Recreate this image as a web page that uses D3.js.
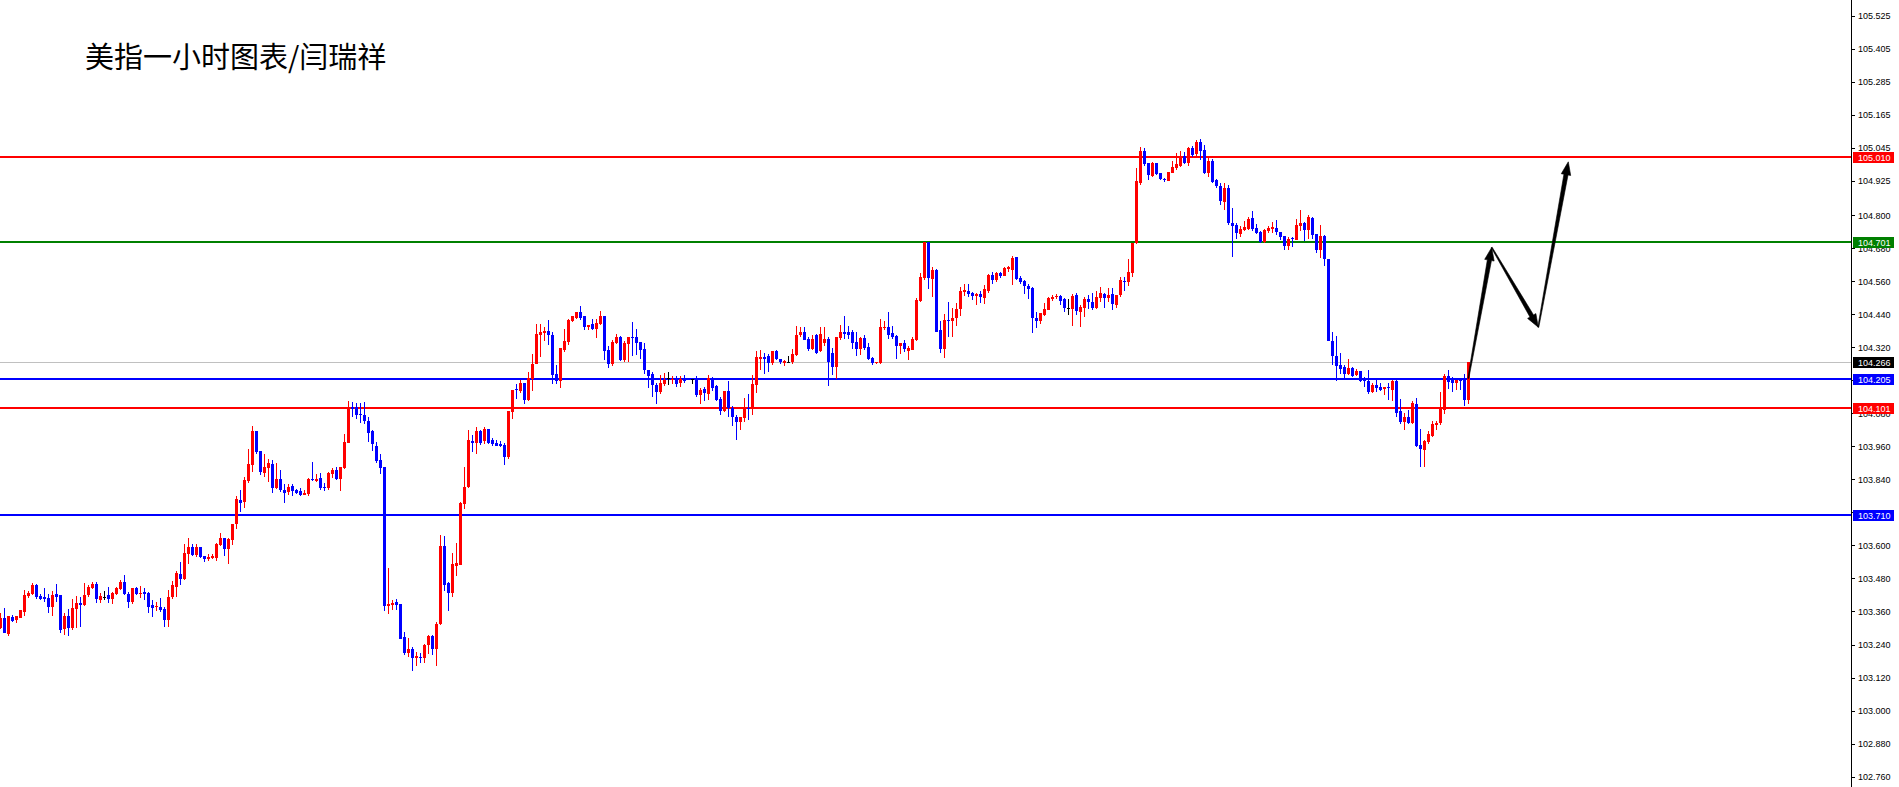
<!DOCTYPE html>
<html>
<head>
<meta charset="utf-8">
<script src="https://cdn.jsdelivr.net/npm/d3@7"></script>
<style>
html,body{margin:0;padding:0;background:#fff;overflow:hidden;}
svg{display:block;}
</style>
</head>
<body>
<svg id="chart" width="1899" height="787"></svg>
<script>
const title = "美指一小时图表/闫瑞祥";

const opens = [
103.299,103.337,103.278,103.339,103.329,103.337,103.359,103.416,103.423,103.456,
103.416,103.412,103.409,103.377,103.422,103.420,103.295,103.344,103.299,103.370,
103.392,103.382,103.420,103.446,103.460,103.402,103.414,103.420,103.405,103.425,
103.443,103.467,103.422,103.394,103.444,103.426,103.431,103.428,103.383,103.377,
103.377,103.370,103.329,103.414,103.449,103.496,103.478,103.570,103.595,103.565,
103.593,103.562,103.551,103.553,103.553,103.603,103.627,103.587,103.621,103.677,
103.765,103.759,103.835,103.892,104.016,103.943,103.864,103.882,103.896,103.807,
103.841,103.801,103.795,103.815,103.803,103.798,103.784,103.787,103.841,103.835,
103.846,103.812,103.807,103.861,103.874,103.843,103.881,103.973,104.104,104.104,
104.077,104.074,104.054,104.016,103.961,103.910,103.885,103.380,103.383,103.393,
103.386,103.267,103.209,103.225,103.192,103.195,103.191,103.238,103.271,103.224,
103.313,103.598,103.462,103.428,103.526,103.529,103.750,103.812,103.980,103.974,
104.016,103.980,104.024,103.984,103.974,103.969,103.966,103.923,104.084,104.168,
104.162,104.190,104.129,104.205,104.260,104.365,104.371,104.380,104.365,104.222,
104.196,104.311,104.340,104.417,104.428,104.448,104.432,104.395,104.405,104.386,
104.404,104.435,104.311,104.259,104.337,104.359,104.273,104.332,104.359,104.357,
104.338,104.314,104.238,104.223,104.183,104.156,104.186,104.208,104.202,104.205,
104.192,104.204,104.205,104.205,104.204,104.147,104.169,104.151,104.207,104.180,
104.133,104.087,104.162,104.101,104.068,104.050,104.062,104.101,104.096,104.183,
104.279,104.286,104.289,104.262,104.308,104.278,104.262,104.266,104.266,104.292,
104.363,104.374,104.351,104.314,104.365,104.305,104.337,104.351,104.301,104.250,
104.353,104.377,104.374,104.375,104.338,104.314,104.353,104.320,104.280,104.262,
104.262,104.389,104.395,104.371,104.362,104.323,104.335,104.308,104.311,104.345,
104.490,104.571,104.701,104.567,104.601,104.383,104.314,104.420,104.414,104.428,
104.460,104.520,104.523,104.519,104.508,104.514,104.498,104.526,104.583,104.565,
104.589,104.580,104.604,104.601,104.647,104.573,104.561,104.544,104.535,104.426,
104.414,104.438,104.456,104.496,104.501,104.507,104.495,104.462,104.460,104.510,
104.450,104.462,104.496,104.484,104.464,104.498,104.514,104.500,104.513,104.474,
104.510,104.562,104.556,104.591,104.698,104.918,105.033,104.991,104.942,104.989,
104.952,104.932,104.926,104.955,104.970,104.979,105.015,104.989,105.046,105.023,
105.067,105.037,104.952,104.998,104.928,104.906,104.849,104.898,104.773,104.764,
104.732,104.746,104.750,104.789,104.752,104.740,104.704,104.743,104.749,104.752,
104.740,104.725,104.688,104.716,104.710,104.761,104.771,104.746,104.791,104.731,
104.674,104.725,104.641,104.344,104.290,104.256,104.250,104.223,104.246,104.220,
104.234,104.210,104.198,104.156,104.183,104.175,104.169,104.175,104.165,104.199,
104.089,104.050,104.068,104.046,104.114,103.965,103.947,103.977,103.999,104.038,
104.044,104.092,104.216,104.207,104.192,104.204,104.207,104.129
];

const highs = [
103.353,103.373,103.345,103.347,103.342,103.365,103.438,103.434,103.463,103.460,
103.423,103.444,103.422,103.434,103.460,103.420,103.353,103.370,103.405,103.416,
103.412,103.463,103.456,103.468,103.466,103.426,103.434,103.450,103.432,103.450,
103.473,103.492,103.431,103.444,103.448,103.451,103.446,103.431,103.402,103.394,
103.409,103.376,103.438,103.471,103.507,103.541,103.604,103.627,103.606,103.604,
103.593,103.562,103.568,103.570,103.608,103.645,103.627,103.627,103.678,103.780,
103.801,103.850,103.950,104.034,104.016,103.943,103.932,103.914,103.910,103.899,
103.875,103.824,103.824,103.824,103.806,103.807,103.801,103.845,103.903,103.861,
103.862,103.827,103.868,103.880,103.884,103.884,104.004,104.125,104.121,104.117,
104.116,104.121,104.067,104.019,103.976,103.932,103.885,103.517,103.402,103.405,
103.386,103.284,103.262,103.230,103.214,103.208,103.242,103.274,103.274,103.323,
103.638,103.634,103.468,103.571,103.610,103.759,103.886,104.020,104.002,104.032,
104.020,104.032,104.024,103.990,103.984,103.978,103.972,104.090,104.165,104.187,
104.202,104.192,104.231,104.296,104.405,104.404,104.392,104.420,104.377,104.256,
104.319,104.387,104.422,104.435,104.450,104.471,104.434,104.402,104.423,104.423,
104.452,104.435,104.323,104.347,104.369,104.362,104.343,104.357,104.411,104.387,
104.338,104.337,104.238,104.229,104.190,104.220,104.228,104.232,104.217,104.217,
104.217,104.220,104.208,104.205,104.216,104.171,104.175,104.220,104.211,104.183,
104.139,104.162,104.196,104.105,104.075,104.068,104.135,104.151,104.220,104.307,
104.311,104.301,104.296,104.308,104.311,104.278,104.274,104.289,104.314,104.398,
104.392,104.392,104.359,104.365,104.369,104.392,104.392,104.359,104.317,104.359,
104.401,104.434,104.398,104.383,104.377,104.359,104.363,104.335,104.284,104.268,
104.423,104.416,104.450,104.399,104.363,104.335,104.345,104.323,104.359,104.498,
104.589,104.701,104.701,104.610,104.604,104.417,104.441,104.483,104.462,104.480,
104.538,104.550,104.550,104.520,104.519,104.523,104.547,104.587,104.595,104.595,
104.595,104.613,104.616,104.650,104.647,104.580,104.565,104.549,104.538,104.450,
104.446,104.480,104.504,104.510,104.513,104.510,104.498,104.496,104.513,104.516,
104.474,104.501,104.510,104.516,104.523,104.538,104.519,104.534,104.534,104.510,
104.574,104.577,104.641,104.698,104.973,105.049,105.046,104.991,104.995,104.991,
104.952,104.936,104.958,104.997,105.027,105.033,105.031,105.049,105.052,105.073,
105.077,105.055,105.010,105.003,104.930,104.916,104.916,104.910,104.825,104.773,
104.761,104.780,104.795,104.815,104.768,104.744,104.749,104.761,104.777,104.783,
104.740,104.725,104.720,104.722,104.785,104.819,104.774,104.801,104.795,104.731,
104.764,104.728,104.641,104.377,104.361,104.301,104.256,104.276,104.250,104.241,
104.235,104.213,104.238,104.189,104.201,104.192,104.174,104.192,104.201,104.201,
104.132,104.080,104.092,104.126,104.137,104.023,103.983,104.017,104.054,104.054,
104.159,104.222,104.238,104.213,104.201,104.204,104.223,104.266
];

const lows = [
103.299,103.283,103.272,103.323,103.321,103.337,103.344,103.411,103.423,103.406,
103.404,103.396,103.358,103.347,103.396,103.284,103.278,103.274,103.296,103.301,
103.307,103.380,103.416,103.444,103.392,103.394,103.402,103.392,103.388,103.422,
103.439,103.420,103.373,103.390,103.420,103.410,103.402,103.356,103.340,103.364,
103.360,103.307,103.307,103.408,103.414,103.457,103.478,103.534,103.565,103.559,
103.557,103.541,103.546,103.551,103.547,103.598,103.563,103.534,103.603,103.660,
103.723,103.737,103.830,103.870,103.933,103.858,103.850,103.833,103.792,103.807,
103.797,103.755,103.784,103.781,103.788,103.783,103.784,103.780,103.836,103.832,
103.803,103.798,103.805,103.846,103.840,103.801,103.881,103.973,104.067,104.061,
104.048,104.044,103.979,103.944,103.903,103.861,103.365,103.351,103.369,103.369,
103.261,103.205,103.196,103.145,103.165,103.174,103.174,103.208,103.205,103.165,
103.311,103.436,103.363,103.416,103.489,103.529,103.735,103.812,103.941,103.934,
103.967,103.972,103.972,103.963,103.963,103.959,103.893,103.915,104.062,104.135,
104.157,104.114,104.127,104.162,104.260,104.286,104.343,104.329,104.190,104.190,
104.175,104.305,104.331,104.414,104.426,104.420,104.383,104.383,104.383,104.357,
104.404,104.274,104.247,104.255,104.335,104.271,104.268,104.268,104.289,104.295,
104.280,104.223,104.174,104.143,104.114,104.153,104.183,104.186,104.190,104.177,
104.177,104.192,104.202,104.190,104.143,104.114,104.127,104.131,104.162,104.127,
104.075,104.087,104.068,104.035,103.984,104.020,104.050,104.056,104.075,104.156,
104.240,104.223,104.232,104.256,104.274,104.262,104.255,104.266,104.262,104.292,
104.359,104.347,104.308,104.311,104.299,104.305,104.325,104.183,104.220,104.208,
104.347,104.351,104.351,104.317,104.292,104.295,104.311,104.274,104.256,104.262,
104.262,104.383,104.353,104.351,104.280,104.299,104.305,104.274,104.311,104.345,
104.486,104.567,104.532,104.504,104.377,104.301,104.283,104.359,104.359,104.401,
104.434,104.508,104.504,104.492,104.474,104.483,104.480,104.519,104.553,104.559,
104.575,104.580,104.595,104.550,104.565,104.553,104.514,104.496,104.374,104.392,
104.408,104.434,104.456,104.490,104.498,104.474,104.450,104.441,104.399,104.438,
104.395,104.432,104.462,104.456,104.462,104.486,104.464,104.486,104.459,104.464,
104.504,104.526,104.544,104.579,104.698,104.913,104.982,104.928,104.942,104.949,
104.928,104.924,104.926,104.955,104.967,104.976,104.989,104.982,105.015,105.010,
105.003,104.952,104.942,104.918,104.901,104.840,104.819,104.767,104.649,104.714,
104.722,104.743,104.749,104.744,104.734,104.702,104.702,104.738,104.737,104.731,
104.712,104.677,104.674,104.688,104.710,104.746,104.708,104.714,104.716,104.665,
104.647,104.619,104.343,104.256,104.199,104.223,104.207,104.220,104.213,104.216,
104.195,104.177,104.153,104.155,104.161,104.163,104.147,104.132,104.126,104.068,
104.044,104.020,104.044,104.044,103.959,103.886,103.886,103.969,103.995,104.020,
104.041,104.080,104.171,104.159,104.165,104.165,104.107,104.117
];

const closes = [
103.337,103.283,103.345,103.327,103.342,103.365,103.420,103.428,103.456,103.414,
103.406,103.406,103.376,103.420,103.414,103.293,103.344,103.299,103.371,103.392,
103.383,103.420,103.450,103.460,103.404,103.416,103.414,103.405,103.428,103.444,
103.467,103.425,103.394,103.444,103.425,103.428,103.425,103.376,103.374,103.380,
103.365,103.329,103.414,103.456,103.499,103.479,103.572,103.595,103.565,103.595,
103.559,103.551,103.559,103.562,103.605,103.627,103.587,103.623,103.678,103.769,
103.755,103.838,103.896,104.016,103.941,103.868,103.884,103.899,103.807,103.841,
103.801,103.792,103.813,103.799,103.792,103.783,103.789,103.841,103.838,103.843,
103.810,103.809,103.864,103.874,103.840,103.884,103.976,104.104,104.097,104.075,
104.073,104.051,104.010,103.967,103.907,103.882,103.380,103.387,103.392,103.383,
103.261,103.208,103.224,103.192,103.197,103.192,103.238,103.271,103.224,103.314,
103.598,103.456,103.428,103.532,103.537,103.755,103.812,103.984,103.974,104.016,
103.972,104.024,103.972,103.969,103.963,103.963,103.923,104.087,104.165,104.164,
104.190,104.129,104.207,104.260,104.369,104.377,104.380,104.365,104.220,104.196,
104.317,104.343,104.420,104.432,104.448,104.428,104.395,104.402,104.386,104.408,
104.435,104.308,104.259,104.341,104.359,104.274,104.335,104.357,104.353,104.335,
104.311,104.236,104.217,104.183,104.156,104.190,104.202,104.208,104.205,104.188,
104.204,104.196,104.202,104.205,104.147,104.165,104.153,104.207,104.171,104.129,
104.089,104.162,104.099,104.065,104.047,104.065,104.101,104.097,104.187,104.283,
104.286,104.279,104.262,104.308,104.278,104.265,104.271,104.266,104.296,104.365,
104.374,104.347,104.314,104.351,104.299,104.369,104.351,104.268,104.250,104.359,
104.375,104.369,104.365,104.337,104.314,104.353,104.317,104.278,104.262,104.268,
104.393,104.395,104.365,104.357,104.323,104.335,104.313,104.317,104.351,104.492,
104.575,104.701,104.571,104.601,104.377,104.314,104.420,104.414,104.428,104.460,
104.523,104.529,104.514,104.508,104.514,104.501,104.531,104.583,104.565,104.589,
104.580,104.607,104.610,104.646,104.567,104.559,104.541,104.531,104.426,104.414,
104.444,104.460,104.498,104.504,104.507,104.490,104.464,104.462,104.507,104.452,
104.468,104.496,104.486,104.462,104.501,104.516,104.500,104.510,104.477,104.510,
104.565,104.559,104.594,104.698,104.924,105.033,104.985,104.946,104.991,104.949,
104.932,104.928,104.958,104.976,104.985,105.013,104.991,105.046,105.019,105.067,
105.035,104.955,104.998,104.922,104.906,104.852,104.898,104.773,104.761,104.734,
104.750,104.756,104.786,104.750,104.737,104.702,104.746,104.752,104.756,104.738,
104.722,104.688,104.714,104.712,104.764,104.771,104.746,104.792,104.728,104.674,
104.725,104.641,104.343,104.290,104.252,104.241,104.223,104.246,104.217,104.234,
104.198,104.198,104.156,104.183,104.171,104.165,104.174,104.171,104.199,104.083,
104.050,104.068,104.046,104.117,103.962,103.951,103.981,104.005,104.041,104.046,
104.096,104.216,104.195,104.189,104.201,104.199,104.129,104.266
];

const yTickValues = [105.525,105.405,105.285,105.165,105.045,104.925,104.800,104.680,
  104.560,104.440,104.320,104.200,104.080,103.960,103.840,103.720,103.600,103.480,
  103.360,103.240,103.120,103.000,102.880,102.760];

// horizontal levels: resistance/support lines and the current price
const levelPrices = [105.010, 104.701, 104.266, 104.205, 104.101, 103.710];
const levelKinds  = ["red", "green", "current", "blue", "red", "blue"];

// forecast path (bar index, price)
const forecastIdx   = [366.95, 372.8, 384.45, 391.95];
const forecastPrice = [104.207, 104.683, 104.393, 104.994];

// ---------------------------------------------------------------
const W = 1899, H = 787;
const axisX = 1851;
const svg = d3.select("#chart");
svg.append("rect").attr("width", W).attr("height", H).attr("fill", "#fff");

const n = opens.length;
const x = d3.scaleLinear().domain([0, n - 1]).range([0.5, 4 * (n - 1) + 0.5]);
const y = d3.scaleLinear().domain([102.760, 105.525]).range([776.6, 15.7]);

const fmt = d3.format(".3f");

const kindStyle = {
  red:     {line: "#ff0000", w: 2, box: "#ff0000"},
  green:   {line: "#008000", w: 2, box: "#008000"},
  blue:    {line: "#0000ff", w: 2, box: "#0000ff"},
  current: {line: "#c0c0c0", w: 1, box: "#000000"}
};

// level lines
const levels = levelPrices.map((p, k) => ({p, kind: levelKinds[k]}));
const gLines = svg.append("g");
gLines.selectAll("line").data(levels).join("line")
  .attr("x1", 0).attr("x2", axisX)
  .attr("y1", d => kindStyle[d.kind].w === 1 ? Math.round(y(d.p)) + 0.5 : Math.round(y(d.p)))
  .attr("y2", d => kindStyle[d.kind].w === 1 ? Math.round(y(d.p)) + 0.5 : Math.round(y(d.p)))
  .attr("stroke", d => kindStyle[d.kind].line)
  .attr("stroke-width", d => kindStyle[d.kind].w)
  .attr("shape-rendering", "crispEdges");

// candles
const bars = d3.range(n).map(i => ({i, o: opens[i], h: highs[i], l: lows[i], c: closes[i]}));
const colorOf = d => d.c > d.o ? "#ff0000" : (d.c < d.o ? "#0000ff" : "#000000");
const gC = svg.append("g").attr("shape-rendering", "crispEdges");
const cg = gC.selectAll("g").data(bars).join("g");
cg.append("line")
  .attr("x1", d => x(d.i)).attr("x2", d => x(d.i))
  .attr("y1", d => y(Math.max(d.h, d.o, d.c)))
  .attr("y2", d => y(Math.min(d.l, d.o, d.c)) + 0.5)
  .attr("stroke", colorOf).attr("stroke-width", 1);
cg.append("rect")
  .attr("x", d => x(d.i) - 1.5)
  .attr("width", 3)
  .attr("y", d => y(Math.max(d.o, d.c)))
  .attr("height", d => Math.max(1, Math.abs(y(d.o) - y(d.c))))
  .attr("fill", colorOf);

// forecast arrows (tapered)
function arrowPoly(x0, y0, x1, y1) {
  const dx = x1 - x0, dy = y1 - y0, L = Math.hypot(dx, dy);
  const ux = dx / L, uy = dy / L, nx = -uy, ny = ux;
  const hl = 13, hw = 4.8, sw0 = 0.5, sw1 = 2.1;
  const bx = x1 - ux * hl, by = y1 - uy * hl;
  const pts = [
    [x0 + nx * sw0, y0 + ny * sw0],
    [bx + nx * sw1, by + ny * sw1],
    [bx + nx * hw, by + ny * hw],
    [x1, y1],
    [bx - nx * hw, by - ny * hw],
    [bx - nx * sw1, by - ny * sw1],
    [x0 - nx * sw0, y0 - ny * sw0]
  ];
  return pts.map(p => p.join(",")).join(" ");
}
const gA = svg.append("g");
for (let k = 0; k < forecastIdx.length - 1; k++) {
  gA.append("polygon")
    .attr("points", arrowPoly(x(forecastIdx[k]), y(forecastPrice[k]), x(forecastIdx[k + 1]), y(forecastPrice[k + 1])))
    .attr("fill", "#000").attr("stroke", "#000").attr("stroke-width", 0.6).attr("stroke-linejoin", "miter");
}

// right price axis
const gAxis = svg.append("g");
gAxis.append("line").attr("x1", axisX + 0.5).attr("x2", axisX + 0.5).attr("y1", 0).attr("y2", H)
  .attr("stroke", "#000").attr("stroke-width", 1).attr("shape-rendering", "crispEdges");
const axis = d3.axisRight(y).tickValues(yTickValues).tickSize(3).tickPadding(3).tickFormat(fmt);
const ag = svg.append("g").attr("transform", `translate(${axisX + 1},0)`).call(axis);
ag.select(".domain").remove();
ag.selectAll(".tick line").attr("stroke", "#000").attr("shape-rendering", "crispEdges");
ag.selectAll(".tick text")
  .attr("font-family", "'Liberation Sans', Arial, sans-serif")
  .attr("font-size", "9px").attr("fill", "#000").attr("x", 6);

// price labels on axis
const gL = svg.append("g");
levels.forEach(d => {
  const yy = Math.round(y(d.p));
  gL.append("rect").attr("x", axisX + 2).attr("y", yy - 5).attr("width", 41).attr("height", 11)
    .attr("fill", kindStyle[d.kind].box).attr("shape-rendering", "crispEdges");
  gL.append("text").attr("x", axisX + 7).attr("y", yy + 4)
    .attr("font-family", "'Liberation Sans', Arial, sans-serif").attr("font-size", "9px")
    .attr("fill", "#fff").text(fmt(d.p));
});

// title
svg.append("text").attr("x", 85).attr("y", 68)
  .attr("font-family", "'Noto Sans CJK SC', 'Noto Sans', sans-serif")
  .attr("font-size", "29px").attr("fill", "#000").text(title);
</script>
</body>
</html>
